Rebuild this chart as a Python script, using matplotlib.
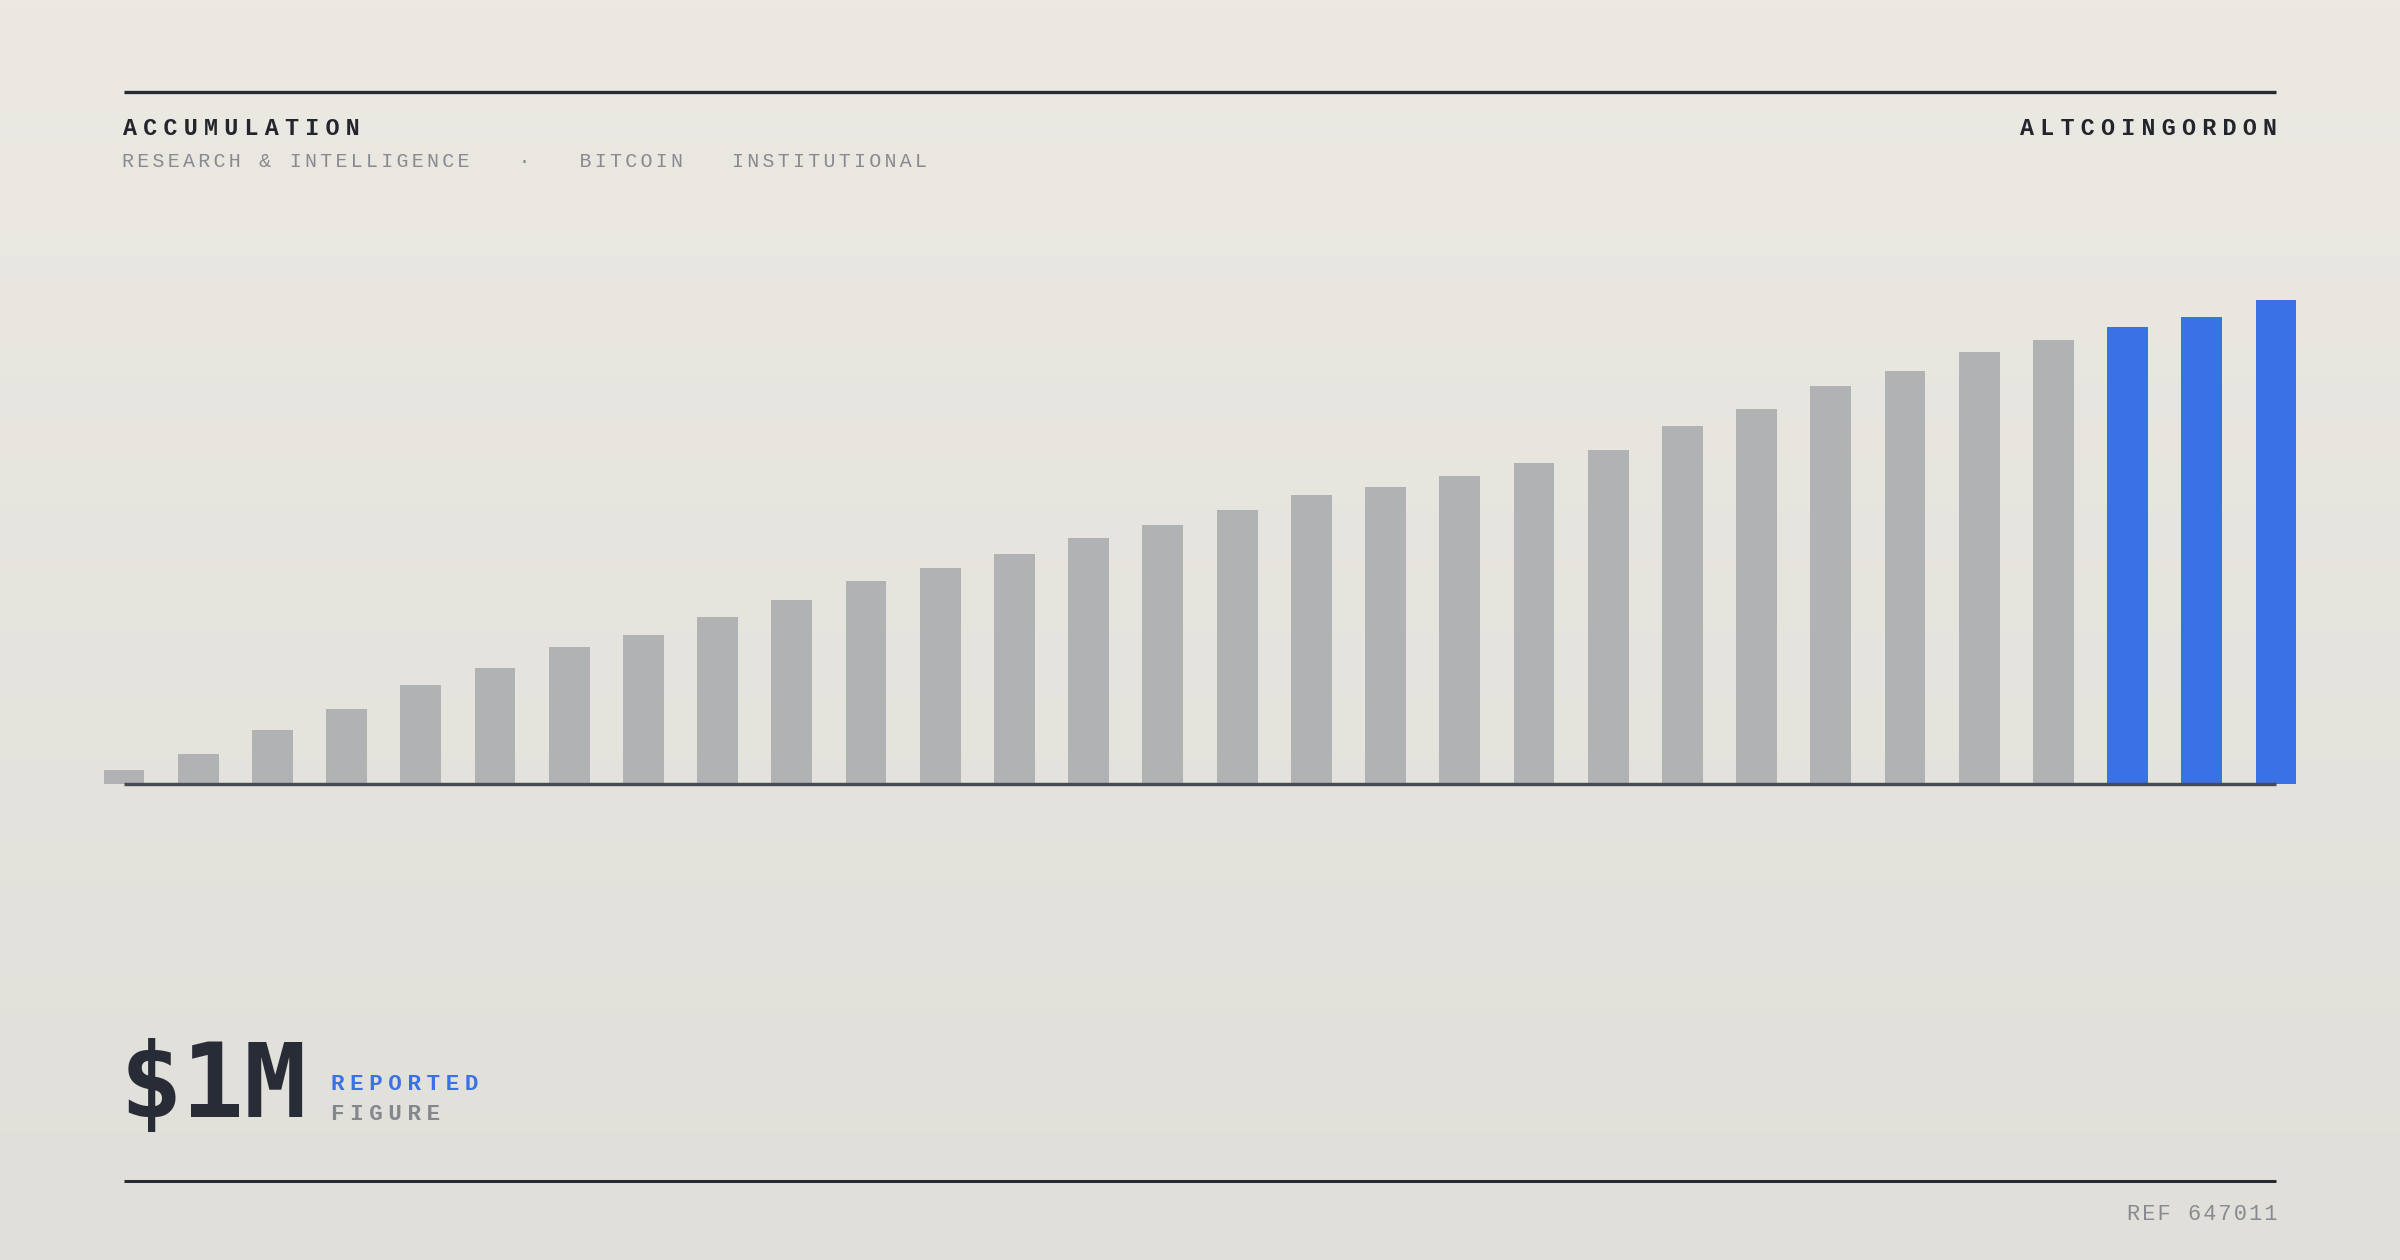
import itertools
import numpy as np
import matplotlib
matplotlib.use("Agg")
import matplotlib.pyplot as plt
from matplotlib import font_manager
from matplotlib.ft2font import FT2Font
from matplotlib.lines import Line2D

# --- data (relative accumulation, last bar = 100) ---
values = [2.9, 6.1, 11.2, 15.5, 20.5, 23.9, 28.4, 30.7, 34.6, 38.0,
          41.9, 44.6, 47.5, 50.8, 53.5, 56.6, 59.7, 61.4, 63.6, 66.3,
          69.0, 74.0, 77.5, 82.3, 85.3, 89.3, 91.7, 94.5, 96.5, 100.0]
highlight_last = 3

title = "ACCUMULATION"
subtitle = "RESEARCH & INTELLIGENCE   \u00b7   BITCOIN   INSTITUTIONAL"
brand = "ALTCOINGORDON"
big_figure = "$1M"
tag_top = "REPORTED"
tag_bottom = "FIGURE"
ref_code = "REF 647011"

W, H, DPI = 2400, 1260, 200
GREY_BAR = "#b1b2b4"
BLUE = "#3a71e5"
INK = "#262a32"
MUTED = "#888a91"


def fx(px):
    return px / W


def fy(py):
    return 1 - py / H


def font_has(family, ch):
    try:
        path = font_manager.findfont(font_manager.FontProperties(family=family),
                                     fallback_to_default=False)
    except Exception:
        return None
    return FT2Font(path).get_char_index(ord(ch)) != 0


# narrow spaces from DejaVu Sans stand in for css letter-spacing
SPACE_W = {"\u2004": 1 / 3, "\u2005": 0.25, "\u2009": 0.2, "\u2006": 1 / 6, "\u200a": 0.1}
MONO_CAP = {"DejaVu Sans Mono": 0.729, "Liberation Mono": 0.659}
MONO_ADV = {"DejaVu Sans Mono": 0.602, "Liberation Mono": 0.600}

MONO = "DejaVu Sans Mono"
usable = []
for fam in ["Liberation Mono", "DejaVu Sans Mono"]:
    ok = [c for c in SPACE_W if font_has(fam, c) is False and font_has("DejaVu Sans", c)]
    if ok:
        MONO = fam
        usable = ok
        break


def label(x, y, s, cap_px, pitch_px, color, weight="normal", ha="left", family=None):
    fam = family or MONO
    em = cap_px / MONO_CAP[fam]
    extra = (pitch_px - MONO_ADV[fam] * em) / em
    text = s
    if family is None and usable and extra > 0.02:
        combos = [c for n in (1, 2, 3)
                  for c in itertools.combinations_with_replacement(usable, n)]
        best = min(combos, key=lambda c: abs(sum(SPACE_W[ch] for ch in c) - extra))
        sp = sum(SPACE_W[ch] for ch in best)
        em = pitch_px / (MONO_ADV[fam] + sp)  # keep the pitch exact
        text = "".join(best).join(s)
    elif family is not None:
        em = pitch_px / MONO_ADV[fam]
    fig.text(fx(x), fy(y), text, fontsize=em * 72 / DPI,
             family=[fam, "DejaVu Sans"], fontweight=weight, color=color,
             ha=ha, va="baseline")


fig = plt.figure(figsize=(W / DPI, H / DPI), dpi=DPI)

# background gradient
bg = fig.add_axes([0, 0, 1, 1], zorder=-5)
top_c = np.array([235, 233, 226]) / 255
bot_c = np.array([224, 223, 217]) / 255
t = np.linspace(0, 1, 256)[:, None]
grad = (top_c * (1 - t) + bot_c * t)[:, None, :]
bg.imshow(grad, aspect="auto", extent=[0, 1, 0, 1])
bg.axis("off")

# header / footer rules
for y, lw in [(92.3, 3.3), (1180.5, 3.0)]:
    fig.add_artist(Line2D([fx(124), fx(2276)], [fy(y), fy(y)], color=INK,
                          lw=lw * 72 / DPI, solid_capstyle="butt"))

# bars
ax = fig.add_axes([fx(124), fy(784), fx(2276) - fx(124), (784 - 300) / H])
x = np.arange(len(values))
colors = [GREY_BAR] * (len(values) - highlight_last) + [BLUE] * highlight_last
ax.bar(x, values, width=0.55, color=colors, clip_on=False, zorder=2)
ax.axhline(0, color="#474b54", lw=3.4 * 72 / DPI, solid_capstyle="butt",
           zorder=3, clip_on=False)
ax.set_xlim(0, len(values) - 1)
ax.set_ylim(0, 100)
ax.axis("off")

# texts
label(123, 134.7, title, 15.3, 20.3, "#22252c", weight="bold")
label(2277, 134.7, brand, 15.3, 20.3, "#22252c", weight="bold", ha="right")
label(121.5, 167.3, subtitle, 13.3, 15.3, MUTED)
label(119.5, 1116.7, big_figure, 74.3, 62.5, "#272c36", weight="bold",
      family="DejaVu Sans Mono")
label(331, 1090.3, tag_top, 14.7, 19.1, BLUE, weight="bold")
label(331, 1120.3, tag_bottom, 14.7, 19.1, "#85878e", weight="bold")
label(2277, 1220, ref_code, 14.7, 15.3, MUTED, ha="right")

fig.savefig("out.png", dpi=DPI)
